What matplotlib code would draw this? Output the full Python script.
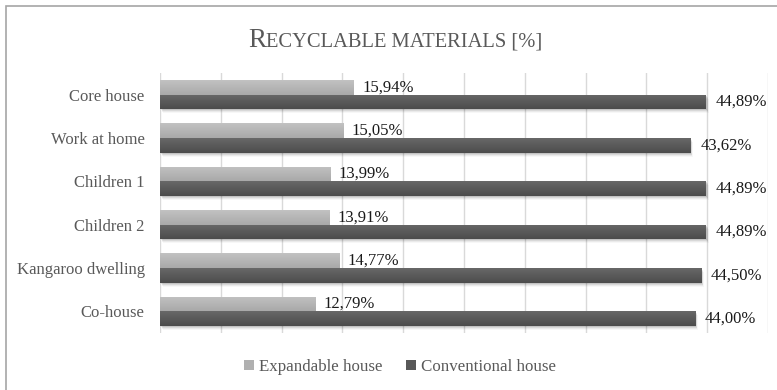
import matplotlib
matplotlib.use("Agg")
import matplotlib.pyplot as plt
import matplotlib.transforms as mtransforms
from matplotlib.colors import LinearSegmentedColormap
from matplotlib.patches import Patch, Rectangle
import numpy as np

categories = ["Core house", "Work at home", "Children 1", "Children 2",
              "Kangaroo dwelling", "Co-house"]
expandable = [15.94, 15.05, 13.99, 13.91, 14.77, 12.79]
conventional = [44.89, 43.62, 44.89, 44.89, 44.50, 44.00]
series_names = ["Expandable house", "Conventional house"]
title_cap = "R"
title_rest = "ECYCLABLE MATERIALS [%]"
x_ticks = list(range(0, 51, 5))

plt.rcParams["font.family"] = ["Liberation Serif", "DejaVu Serif"]

W, H = 777, 390
fig = plt.figure(figsize=(W / 100, H / 100), dpi=100)

# chart frame
fig.patches.append(Rectangle((6 / W, -0.05), 1.2, (1 - 6 / H) + 0.05,
                             transform=fig.transFigure, fill=False,
                             edgecolor="#a6a6a6", lw=1.2))

ax = fig.add_axes([160 / W, 1 - 333 / H, (768 - 160) / W, (333 - 73) / H])

y = np.arange(len(categories))
h = 0.335
light_top, light_bot = "#c2c2c2", "#a9a9a9"
dark_top, dark_bot = "#686868", "#4c4c4c"

# soft drop shadow under the dark bars
for dx, dy, a in [(1, -1, 0.10), (2, -2, 0.07), (2, -3, 0.05), (3, -4, 0.03)]:
    tr = mtransforms.offset_copy(ax.transData, fig=fig, x=dx, y=dy, units="dots")
    ax.barh(y + h / 2, conventional, height=h, color="black", alpha=a,
            transform=tr, zorder=2, linewidth=0)

bars1 = ax.barh(y - h / 2, expandable, height=h, color="#b3b3b3", zorder=3, linewidth=0)
bars2 = ax.barh(y + h / 2, conventional, height=h, color="#585858", zorder=3, linewidth=0)

grad = np.linspace(0, 1, 64).reshape(-1, 1)
for bars, c0, c1 in [(bars1, light_top, light_bot), (bars2, dark_top, dark_bot)]:
    cmap = LinearSegmentedColormap.from_list("g", [c0, c1])
    for bar in bars:
        x0, y0 = bar.get_x(), bar.get_y()
        w, hh = bar.get_width(), bar.get_height()
        im = ax.imshow(grad, extent=[x0, x0 + w, y0 + hh, y0], cmap=cmap,
                       aspect="auto", zorder=3.5, interpolation="bilinear")
        im.set_clip_path(bar)


def fmt(v):
    return f"{v:.2f}".replace(".", ",") + "%"


for yy, v in zip(y - h / 2, expandable):
    ax.annotate(fmt(v), xy=(v, yy), xytext=(6, 0), textcoords="offset points",
                ha="left", va="center", fontsize=12, color="#1a1a1a", zorder=5)
for yy, v in zip(y + h / 2, conventional):
    ax.annotate(fmt(v), xy=(v, yy), xytext=(7, 0), textcoords="offset points",
                ha="left", va="center", fontsize=12, color="#1a1a1a", zorder=5)

ax.set_xlim(0, 50)
ax.set_ylim(len(categories) - 0.5, -0.5)
ax.set_xticks(x_ticks)
ax.set_yticks(y, categories)
ax.tick_params(axis="x", length=0, labelbottom=False)
ax.tick_params(axis="y", length=0, pad=11, labelsize=12, labelcolor="#595959")
ax.grid(axis="x", color="#d9d9d9", lw=1)
ax.set_axisbelow(True)
for s in ax.spines.values():
    s.set_visible(False)

# legend
handles = [Patch(facecolor="#b0b0b0"), Patch(facecolor="#585858")]
fig.legend(handles, series_names, loc="center", bbox_to_anchor=(400 / W, 1 - 367 / H),
           ncol=2, frameon=False, fontsize=12.2, handlelength=0.6, handleheight=0.6,
           handletextpad=0.3, columnspacing=1.4, labelcolor="#595959")

# small-caps style title
base_y = 1 - 47 / H
t1 = fig.text(0, base_y, title_cap, fontsize=19.5, color="#595959", va="baseline", ha="left")
fig.canvas.draw()
r = fig.canvas.get_renderer()
b1 = t1.get_window_extent(r)
t2 = fig.text(b1.x1 / W, base_y, title_rest, fontsize=14.8, color="#595959",
              va="baseline", ha="left")
b2 = t2.get_window_extent(r)
total = b2.x1 - b1.x0
start = 395 - total / 2
t1.set_x(start / W)
t2.set_x((start + b1.width) / W)

fig.savefig("out.png", dpi=100)
